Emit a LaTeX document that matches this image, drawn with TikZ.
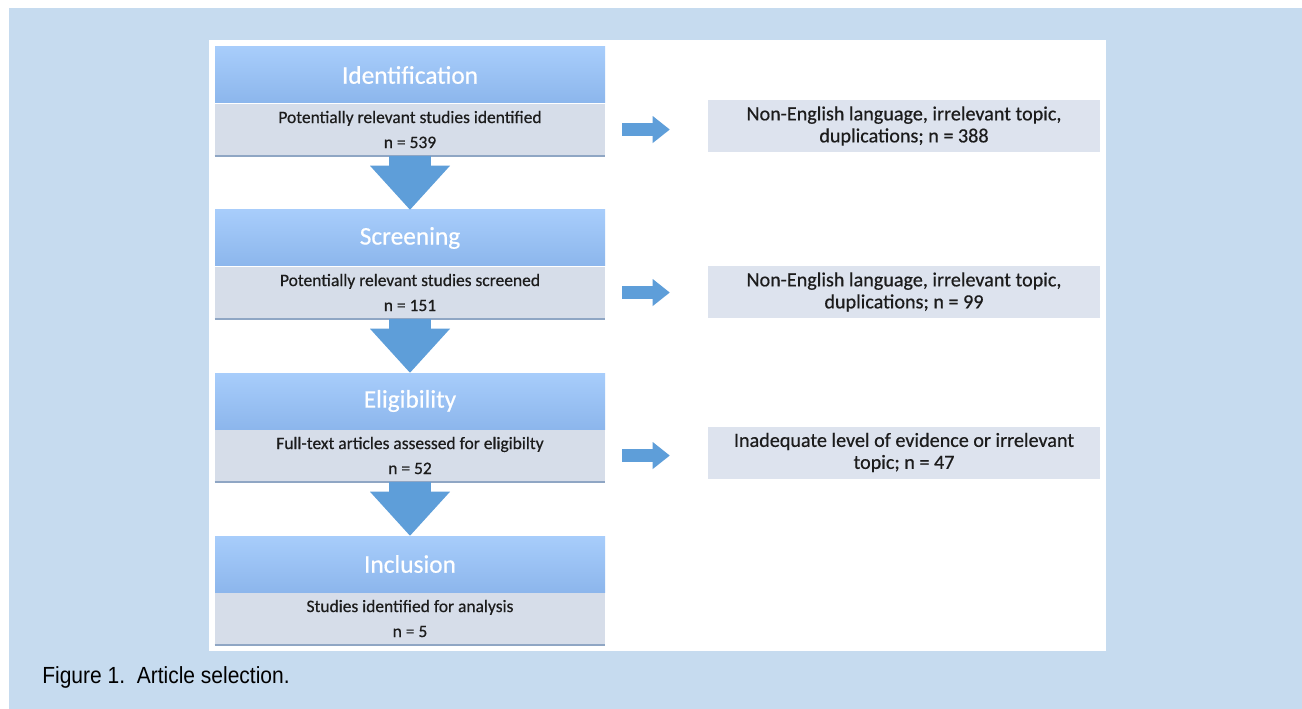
\documentclass[tikz,border=0pt]{standalone}
\usepackage{fontspec}
\setmainfont{Carlito}
\newfontfamily\boxfont[FakeBold=0.5]{Carlito}
\newfontfamily\capfont[FakeStretch=0.9]{Liberation Sans}
\usetikzlibrary{positioning,arrows.meta}

\definecolor{panelblue}{HTML}{C6DBEF}
\definecolor{headtop}{HTML}{A8CDFB}
\definecolor{headbot}{HTML}{8CB6EC}
\definecolor{bodygray}{HTML}{D6DDE9}
\definecolor{bodyline}{HTML}{8FA6C4}
\definecolor{exclgray}{HTML}{DDE3EE}
\definecolor{arrowblue}{HTML}{5E9ED9}
\definecolor{textdark}{HTML}{1C1C1C}

\tikzset{
  stagehead/.style={minimum width=292.5pt, minimum height=42pt, inner sep=0pt,
    top color=headtop, bottom color=headbot, text=white,
    font=\boxfont\fontsize{19}{21}\selectfont},
  stagebody/.style={minimum width=292.5pt, minimum height=39pt, inner sep=0pt,
    fill=bodygray, text=textdark, align=center,
    font=\boxfont\fontsize{13.1}{18.75}\selectfont},
  exclbox/.style={minimum width=294pt, minimum height=39pt, inner sep=0pt,
    fill=exclgray, text=textdark, align=center,
    font=\boxfont\fontsize{15.1}{16.5}\selectfont},
  downarrow/.style={draw=arrowblue, line width=31.5pt,
    -{Triangle[width=60pt,length=33pt,line width=0pt]}},
  sidearrow/.style={draw=arrowblue, line width=9.75pt,
    -{Triangle[width=20.25pt,length=12.75pt,line width=0pt]}},
  bodyedge/.style={draw=bodyline, line width=1.5pt}
}

\begin{document}
\begin{tikzpicture}[x=0.75pt,y=-0.75pt]
    \useasboundingbox (0,0) rectangle (1302,709);
    % Fondo
    \fill[panelblue] (9,8) rectangle (1302,709);
    \fill[white] (209,40) rectangle (1106,651);

    % Etapas
    \node[stagehead] (idhead) at (410,75) {Identification};
    \node[stagebody, below=0pt of idhead] (idbody) {Potentially relevant studies identified\\n = 539};
    \node[stagehead] (scrhead) at (410,238) {Screening};
    \node[stagebody, below=0pt of scrhead] (scrbody) {Potentially relevant studies screened\\n = 151};
    \node[stagehead] (elihead) at (410,401) {Eligibility};
    \node[stagebody, below=0pt of elihead] (elibody) {Full-text articles assessed for eligibilty\\n = 52};
    \node[stagehead] (inchead) at (410,564) {Inclusion};
    \node[stagebody, below=0pt of inchead] (incbody) {Studies identified for analysis\\n = 5};
    \foreach \s in {idbody,scrbody,elibody,incbody}
        \draw[bodyedge] (\s.south west) -- (\s.south east);

    % Exclusiones
    \node[exclbox] (idexcl) at (904,126) {Non-English language, irrelevant topic,\\duplications; n = 388};
    \node[exclbox] (screxcl) at (904,292) {Non-English language, irrelevant topic,\\duplications; n = 99};
    \node[exclbox] (eliexcl) at (904,452.5) {Inadequate level of evidence or irrelevant\\topic; n = 47};

    % Flechas
    \draw[downarrow] (idbody.south) -- (scrhead.north);
    \draw[downarrow] (scrbody.south) -- (elihead.north);
    \draw[downarrow] (elibody.south) -- (inchead.north);
    \draw[sidearrow] ([xshift=12.75pt]idbody.east) -- ([xshift=-28.5pt]idexcl.west |- idbody.east);
    \draw[sidearrow] ([xshift=12.75pt]scrbody.east) -- ([xshift=-28.5pt]screxcl.west |- scrbody.east);
    \draw[sidearrow] ([xshift=12.75pt]elibody.east) -- ([xshift=-28.5pt]eliexcl.west |- elibody.east);

    % Leyenda
    \node[anchor=base west, text=black, inner sep=0pt, font=\capfont\fontsize{17.5}{19}\selectfont] (caption) at (42,683) {Figure 1.\ \ Article selection.};
\end{tikzpicture}
\end{document}
